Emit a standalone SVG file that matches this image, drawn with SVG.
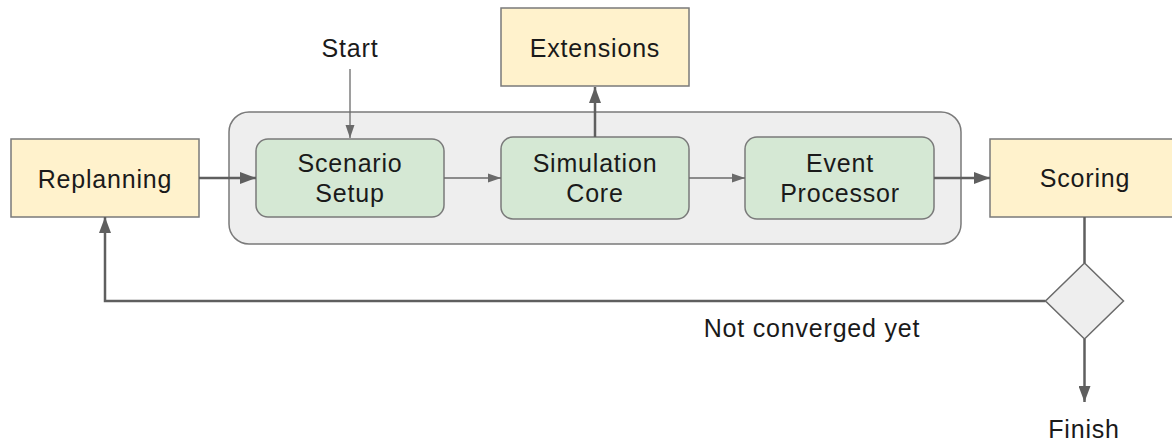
<svg xmlns="http://www.w3.org/2000/svg" width="1172" height="441" viewBox="0 0 1172 441">
  <style>
    .lbl { font-family: "Liberation Sans", Arial, sans-serif; font-size: 25px; letter-spacing: 0.8px; fill: #1a1a1a; text-anchor: middle; }
    .ext { fill: #fff2cc; stroke: #7a7a7a; stroke-width: 1.5; }
    .step { fill: #d5e8d4; stroke: #7a7a7a; stroke-width: 1.5; }
    .group { fill: #eeeeee; stroke: #7a7a7a; stroke-width: 1.5; }
    .thick { fill: none; stroke: #5f5f5f; stroke-width: 2.5; }
    .thin { fill: none; stroke: #6a6a6a; stroke-width: 1.3; }
  </style>
  <defs>
    <marker id="headBig" markerUnits="userSpaceOnUse" markerWidth="16" markerHeight="12" refX="16" refY="6" orient="auto">
      <path d="M0,0 L16,6 L0,12 z" fill="#5f5f5f"/>
    </marker>
    <marker id="headSmall" markerUnits="userSpaceOnUse" markerWidth="13" markerHeight="10" refX="13" refY="5" orient="auto">
      <path d="M0,0.5 L13,5 L0,9.5 z" fill="#6a6a6a"/>
    </marker>
  </defs>

  <!-- simulation loop container -->
  <g id="loop">
    <rect class="group" x="229" y="112" width="732" height="132" rx="20"/>
  </g>

  <g id="replanning">
    <rect class="ext" x="11" y="139" width="188" height="78"/>
    <text class="lbl" x="105" y="188">Replanning</text>
  </g>

  <g id="scenario-setup">
    <rect class="step" x="256" y="139" width="188" height="78" rx="12"/>
    <text class="lbl" x="350" y="172">Scenario</text>
    <text class="lbl" x="350" y="202">Setup</text>
  </g>

  <g id="simulation-core">
    <rect class="step" x="501" y="137" width="188" height="82" rx="12"/>
    <text class="lbl" x="595" y="172">Simulation</text>
    <text class="lbl" x="595" y="202">Core</text>
  </g>

  <g id="event-processor">
    <rect class="step" x="745" y="137" width="189" height="82" rx="12"/>
    <text class="lbl" x="840" y="172">Event</text>
    <text class="lbl" x="840" y="202">Processor</text>
  </g>

  <g id="scoring">
    <rect class="ext" x="990" y="139" width="190" height="78"/>
    <text class="lbl" x="1085" y="187">Scoring</text>
  </g>

  <g id="extensions">
    <rect class="ext" x="501" y="8" width="188" height="78"/>
    <text class="lbl" x="595" y="57">Extensions</text>
  </g>

  <g id="converged-check">
    <polygon points="1084.5,263 1123.5,301 1084.5,339 1045.5,301" fill="#eeeeee" stroke="#6a6a6a" stroke-width="1.5"/>
  </g>

  <g id="start">
    <text class="lbl" x="350" y="57">Start</text>
  </g>

  <g id="finish">
    <text class="lbl" x="1084" y="438">Finish</text>
  </g>

  <g id="connectors">
    <path class="thin" d="M350,69 L350,138" marker-end="url(#headSmall)"/>
    <path class="thick" d="M199,178 L256,178" marker-end="url(#headBig)"/>
    <path class="thin" d="M444,178 L501,178" marker-end="url(#headSmall)"/>
    <path class="thin" d="M689,178 L745,178" marker-end="url(#headSmall)"/>
    <path class="thick" d="M934,178 L990,178" marker-end="url(#headBig)"/>
    <path class="thick" d="M595,137 L595,87" marker-end="url(#headBig)"/>
    <path class="thick" d="M1084.5,217 L1084.5,263"/>
    <path class="thick" d="M1084.5,339 L1084.5,402" marker-end="url(#headBig)"/>
    <path class="thick" d="M1045.5,301 L105,301 L105,217" marker-end="url(#headBig)"/>
    <text class="lbl" x="812" y="337">Not converged yet</text>
  </g>
</svg>
